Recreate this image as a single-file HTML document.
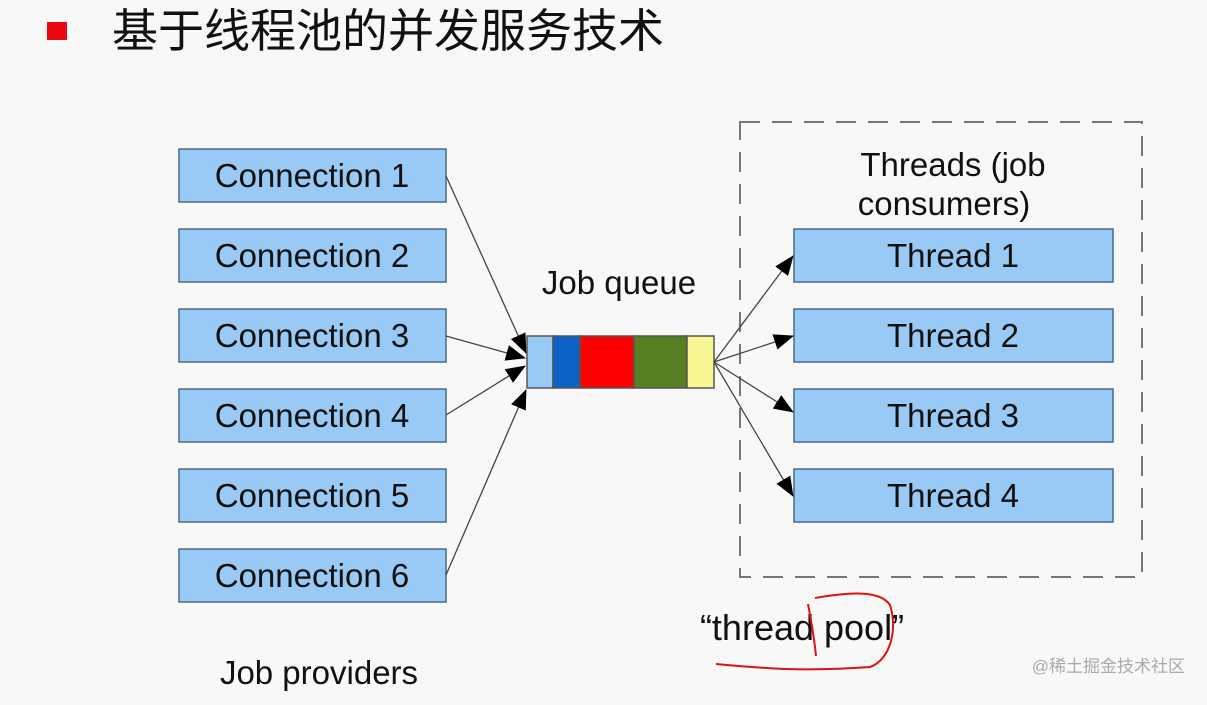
<!DOCTYPE html>
<html><head><meta charset="utf-8"><style>
body{margin:0;background:#f8f9f7;width:1207px;height:700px;overflow:hidden}
</style></head><body>
<svg width="1207" height="700" xmlns="http://www.w3.org/2000/svg" font-family="'Liberation Sans', 'Noto Sans CJK SC', sans-serif">
<defs><marker id="a" markerWidth="20" markerHeight="16" refX="19" refY="8" orient="auto" markerUnits="userSpaceOnUse"><path d="M0,0 L20,8 L0,16 z" fill="#000"/></marker></defs>
<rect x="47" y="22" width="20" height="18" fill="#e8080d"/>
<text x="112" y="47" font-size="46" fill="#111">基于线程池的并发服务技术</text>
<g fill="#99c9f5" stroke="#4a6a8a" stroke-width="1.5">
<rect x="179" y="149" width="267" height="53"/><rect x="179" y="229" width="267" height="53"/>
<rect x="179" y="309" width="267" height="53"/><rect x="179" y="389" width="267" height="53"/>
<rect x="179" y="469" width="267" height="53"/><rect x="179" y="549" width="267" height="53"/>
<rect x="794" y="229" width="319" height="53"/><rect x="794" y="309" width="319" height="53"/>
<rect x="794" y="389" width="319" height="53"/><rect x="794" y="469" width="319" height="53"/>
</g>
<g font-size="33" fill="#111" text-anchor="middle">
<text x="312" y="187">Connection 1</text><text x="312" y="267">Connection 2</text>
<text x="312" y="347">Connection 3</text><text x="312" y="427">Connection 4</text>
<text x="312" y="507">Connection 5</text><text x="312" y="587">Connection 6</text>
<text x="953" y="267">Thread 1</text><text x="953" y="347">Thread 2</text>
<text x="953" y="427">Thread 3</text><text x="953" y="507">Thread 4</text>
<text x="953" y="176">Threads (job</text><text x="944" y="215">consumers)</text>
<text x="619" y="294">Job queue</text>
<text x="319" y="684">Job providers</text>
<text x="802" y="640" font-size="36">“thread pool”</text>
</g>
<rect x="740" y="122" width="402" height="455" fill="none" stroke="#777" stroke-width="2" stroke-dasharray="20,12"/>
<g stroke="#555" stroke-width="1.5">
<rect x="527" y="336" width="26" height="52" fill="#99c9f5"/><rect x="553" y="336" width="27" height="52" fill="#0b63c6"/>
<rect x="580" y="336" width="54" height="52" fill="#fe0000"/><rect x="634" y="336" width="53" height="52" fill="#567f22"/>
<rect x="687" y="336" width="27" height="52" fill="#f7f894"/>
</g>
<g stroke="#444" stroke-width="1.3" marker-end="url(#a)">
<line x1="446" y1="176" x2="526" y2="353"/><line x1="446" y1="336" x2="525" y2="358"/>
<line x1="446" y1="415" x2="525" y2="366"/><line x1="446" y1="575" x2="526" y2="390"/>
<line x1="714" y1="362" x2="793" y2="256"/><line x1="714" y1="362" x2="793" y2="336"/>
<line x1="714" y1="362" x2="793" y2="412"/><line x1="714" y1="362" x2="793" y2="496"/>
</g>
<g fill="none" stroke="#e01010" stroke-width="2">
<path d="M808,604 C812,625 815,645 816,656"/>
<path d="M815,598 C850,592 880,590 890,605 C898,630 890,660 870,667 C800,672 760,668 716,664"/>
</g>
<text x="1185" y="672" font-size="17" fill="#aaa" text-anchor="end">@稀土掘金技术社区</text>
</svg>
</body></html>
